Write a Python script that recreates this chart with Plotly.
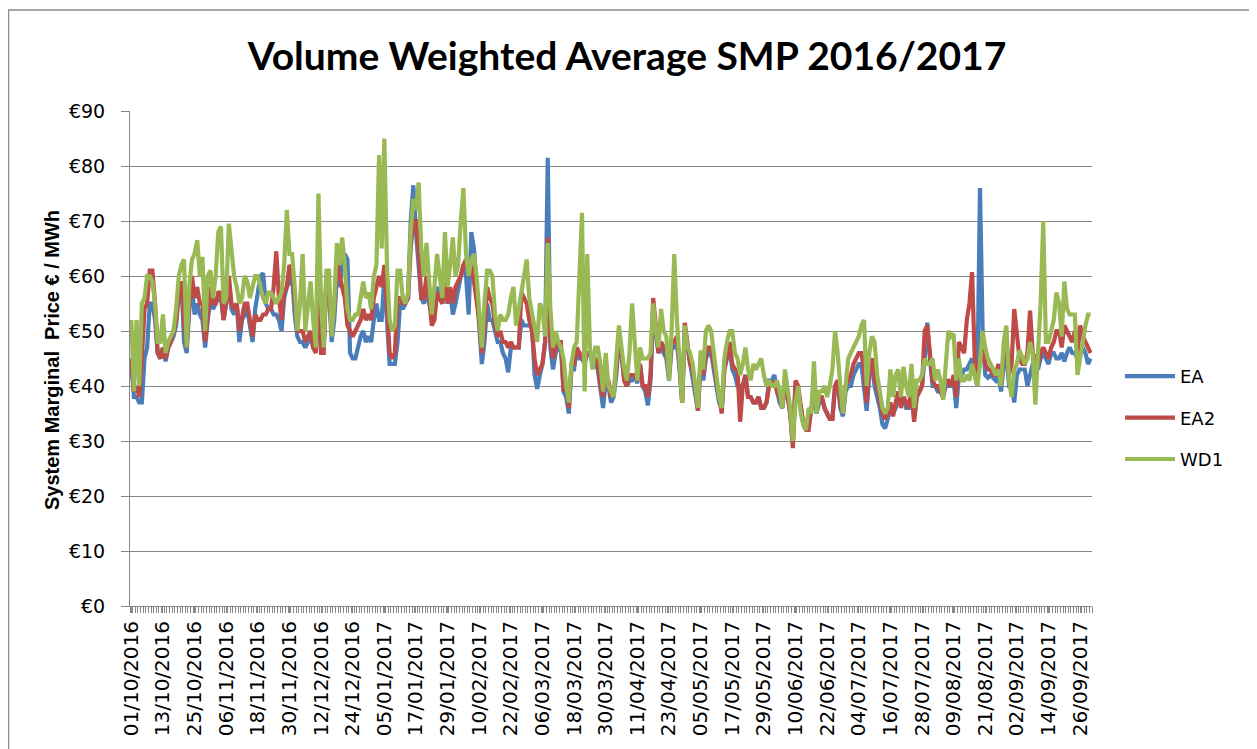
import pandas as pd
import plotly.graph_objects as go

# Daily dates (category labels) 01/10/2016 .. 30/09/2017
dates = pd.date_range("2016-10-01", "2017-09-30", freq="D")
tick_dates = dates[::12]

EA = [
    44, 38, 38, 37, 37, 45, 47, 55, 55, 52,
    46, 45, 47, 44.5, 47, 48, 49, 51, 57, 59,
    48, 46, 54, 58, 53, 55, 53, 52, 47, 52,
    56, 54, 55, 56, 56, 52, 55, 59, 54, 53,
    55, 48, 52, 53, 54, 51, 48, 54, 57, 60,
    60.5, 55, 54, 54, 53, 53, 52, 50, 56, 58,
    59, 60, 53, 49, 48, 48, 47, 48, 49, 47,
    47, 58, 46, 47, 59, 57, 48, 52, 60, 58,
    62, 64, 63, 46, 45, 45, 47, 49, 50, 48,
    49, 48, 52, 55, 52, 52, 60, 53, 44, 44,
    44, 48, 55, 54, 55, 56, 70, 76.5, 68, 62,
    56, 55, 57, 55, 53, 53, 58, 56, 55, 60,
    55, 57, 53, 55, 58, 60, 62, 60, 53, 68,
    65, 57, 50, 44, 48, 55, 52, 52, 50, 48,
    48, 46, 45, 42.5, 47, 47, 47, 47, 52, 51,
    51, 51, 51, 42, 39.5, 42, 44, 48, 81.5, 47,
    43, 46, 47, 47, 39, 38, 35, 43, 43, 47,
    45, 45, 44, 46, 46, 44, 44, 43, 39, 36,
    41, 40, 37, 38, 42, 48, 46, 41, 40, 41,
    41, 42, 40.5, 44, 40, 39, 36.5, 41, 53, 49,
    46, 47, 46, 45, 41, 47, 47, 48, 43, 37,
    50, 47, 44, 42, 38, 35.5, 44, 41, 45, 46,
    46, 43, 39, 37, 36, 43, 45, 47, 43, 42,
    40, 40, 40, 42, 38, 38, 37, 37, 38, 36,
    36, 37, 41, 41, 42, 39, 37, 36, 40, 38,
    35, 29.5, 40, 39, 36, 33, 32, 33, 36, 37,
    35, 37, 38, 36, 35, 34, 34, 40, 41, 36,
    34.5, 39, 40, 40, 42, 43, 44, 44, 40, 35.5,
    42, 44, 40, 38, 36, 33, 32.3, 34, 36, 35,
    36, 38, 37, 38, 36, 36, 39, 34, 38, 39,
    40, 45, 51.5, 45, 40, 40, 39, 39, 38, 40,
    40, 40, 41, 36, 42, 42, 43, 43, 44, 45,
    42, 40, 76, 50, 42, 41.5, 42, 41.5, 41, 42,
    39, 44, 46, 40, 40, 37, 42, 43, 43, 43,
    40, 42, 44, 44, 43, 45, 46, 45, 44, 46,
    46, 45, 45, 46, 44.5, 46, 47, 46, 46, 45,
    46, 47, 46, 44, 45,
]

EA2 = [
    45, 39, 40, 38, 45, 54, 55, 61, 61, 55,
    46, 45, 47, 45, 47, 48, 50, 52, 57, 59,
    52, 47, 55, 60, 56, 58, 55, 55, 48, 53,
    58, 55, 55, 57, 57, 52, 55, 60, 55, 54,
    55, 50, 53, 55, 55, 52, 49, 53, 52, 52,
    53, 53, 54, 54, 58, 64.5, 56, 52, 57, 58,
    62, 61, 55, 50, 50, 50, 48, 49, 50, 47,
    46, 58, 46, 46, 60, 58, 50, 54, 63, 60,
    58, 56, 51, 50, 49, 50, 51, 52, 54, 52,
    53, 52, 56, 58, 60, 58, 62, 55, 46, 45,
    46, 56, 56, 55, 55, 56, 65, 70, 70, 65,
    56, 56, 60, 56, 51, 52, 57, 56, 55, 60,
    55, 58, 55, 58, 59, 60, 62, 63, 60, 62,
    59, 55, 52, 46, 51, 58, 56, 55, 51, 49,
    50, 48, 48, 47, 48, 47, 47, 47, 57, 56,
    55, 52, 50, 45, 42, 43, 44, 48, 67, 48,
    45, 47, 48, 48, 39, 40, 36, 44, 44, 47,
    46, 45, 45, 46, 46, 45, 45, 44, 40, 38,
    42, 41, 38, 39, 43, 49, 46, 41, 40, 42,
    42, 42, 41, 44, 40, 40, 38, 42, 56, 50,
    46, 48, 47, 46, 42, 48, 48, 49, 44, 37,
    51.5, 48, 44, 43, 39, 35.5, 45, 42, 46, 47,
    47, 44, 40, 37, 35, 43, 46, 48, 44, 43,
    43, 33.5, 40, 42, 38, 38, 37, 37, 38, 36,
    36, 37, 40, 40, 41, 39, 38, 36, 41, 38,
    35, 28.7, 41, 40, 37, 33, 32, 32, 36, 38,
    36, 38, 38, 36, 35, 34, 34, 40, 41, 37,
    35, 40, 41, 42, 44, 45, 46, 46, 43, 37,
    44, 45, 41, 40, 37, 35, 34, 35, 37, 34.5,
    37, 39, 36, 38, 37, 36, 40, 33.5, 38, 39,
    40, 50, 51, 46, 41, 40, 40, 39, 38, 41,
    41, 40, 42, 38, 48, 47, 46, 52, 55, 60.7,
    45, 42, 44, 48, 44, 43, 43, 42, 42, 44,
    40, 46, 49, 42, 44, 54, 49, 45, 44, 44,
    46, 53.7, 46, 45, 44, 46, 47, 46, 45, 47,
    48, 50, 50, 47, 51, 50, 49, 48, 50, 46,
    51, 49, 48, 47, 46,
]

WD1 = [
    52, 39, 52, 40, 55, 56, 60, 60, 59, 55,
    48, 48, 53, 46, 48, 49, 50, 54, 60, 62,
    63, 47, 58, 63, 64, 66.5, 60, 63.5, 50, 60,
    61, 56, 60, 68, 69, 55, 56, 69.5, 65, 60,
    58, 55, 56, 60, 59, 56, 58, 60, 60, 58,
    56, 55, 57, 57, 56, 55, 56, 57, 62, 72,
    64, 64, 58, 50, 55, 64, 50, 55, 59, 52,
    47, 75, 55, 47, 61, 61, 49, 55, 66, 62,
    67, 62, 54, 52, 52, 53, 53, 56, 59, 56,
    57, 54, 60, 62, 82, 65, 85, 62, 52, 50,
    51, 61, 61, 56, 55, 57, 68, 74, 72, 77,
    65, 60, 66, 59, 53, 58, 64, 60, 56, 68,
    58, 62, 67, 60, 62, 70, 76, 64, 60, 63,
    64, 60, 54, 47, 55, 61, 61, 60, 53, 50,
    53, 52, 52, 53, 56, 58, 51, 54, 57, 60,
    63, 56, 53, 50, 48, 55, 54, 49, 66, 54,
    47, 50, 48, 47, 45, 40, 37, 44, 47, 48,
    58, 71.5, 39, 64, 47, 43, 47, 47, 44, 39,
    46, 40, 39, 38, 45, 51, 47, 43, 41, 46,
    55, 47, 41, 47, 45, 45, 45, 46, 55, 50,
    47, 54, 50, 49, 41, 50, 64, 52, 45, 37,
    51, 47, 46, 44, 40, 36, 46.5, 43, 50, 51,
    50, 46, 41, 38, 36, 45, 48, 50, 50, 46,
    45, 42, 44, 47, 43, 41, 44, 43, 44, 45,
    42, 40, 41, 40, 40, 41, 39, 36, 43, 40,
    36, 30, 37, 40, 35, 33, 32, 36, 35, 44.5,
    35, 39, 39, 40, 38, 40, 43, 50, 46, 40,
    35, 40, 45, 46, 47, 48, 49, 51, 52, 40,
    46, 49, 48, 42, 39, 36, 35, 36, 43, 38,
    42, 43, 38, 43.5, 40, 38, 44, 36, 41, 41,
    42, 45, 44, 44, 45, 41, 43, 41, 37.5, 45,
    50, 49, 49.5, 41, 45, 41, 41, 42, 41, 44,
    42, 40, 44, 50, 47, 45, 44, 43, 42, 43,
    40, 48, 51, 41, 38, 43, 44, 46.5, 45, 44,
    45, 48, 46, 36.6, 46, 55, 70, 48, 48, 50,
    52, 57, 55, 49, 59, 54, 53, 53, 53, 42,
    45, 49, 51, 53, 53,
]

series = [("EA", EA, "#4A7EBB"), ("EA2", EA2, "#BE4B48"), ("WD1", WD1, "#98B954")]

# The page body has an 8px margin, so figure coords = page coords - 8
OFF = 8
W, H = 1257, 749
L, R, T, B = 130 - OFF, 165 + OFF, 111 - OFF, 143 + OFF
pw, ph = W - L - R, H - T - B

def px(x_page):
    return (x_page - OFF - L) / pw

def py(y_page):
    return (H - B - (y_page - OFF)) / ph

fig = go.Figure()
for name, vals, col in series:
    fig.add_trace(go.Scatter(
        x=dates[:len(vals)], y=vals, mode="lines", name=name,
        legendgroup=name,
        line=dict(color=col, width=4.2),
    ))

grid = "#878787"
fig.update_layout(
    width=W, height=H,
    margin=dict(l=L, r=R, t=T, b=B, autoexpand=False),
    paper_bgcolor="white", plot_bgcolor="white",
    title=dict(text="<b>Volume Weighted Average SMP 2016/2017</b>",
               font=dict(family="Lato", size=39, color="#000000"),
               x=px(627), xanchor="center", xref="paper",
               y=1 - (56 - OFF) / H, yanchor="middle", yref="container"),
    showlegend=True,
    legend=dict(x=px(1120), y=py(358), xanchor="left", yanchor="top",
                font=dict(family="DejaVu Sans", size=18, color="#000000"),
                tracegroupgap=15, itemwidth=50,
                bgcolor="rgba(0,0,0,0)"),
    xaxis=dict(
        type="date",
        range=[dates[0] - pd.Timedelta(hours=12), dates[-1] + pd.Timedelta(hours=12)],
        tickmode="array", tickvals=list(tick_dates),
        tickformat="%d/%m/%Y", tickangle=-90,
        tickfont=dict(family="DejaVu Sans", size=20, color="#000000"),
        showgrid=False, zeroline=False,
        showline=True, linecolor=grid, linewidth=1,
        ticks="outside", ticklen=6, tickcolor=grid,
        minor=dict(dtick=86400000, tick0="2016-09-30 12:00",
                   ticks="outside", ticklen=6, tickcolor=grid, showgrid=False),
    ),
    yaxis=dict(
        range=[0, 90], dtick=10, tickprefix="€",
        tickfont=dict(family="DejaVu Sans", size=19, color="#000000"),
        showgrid=True, gridcolor=grid, gridwidth=1,
        zeroline=False, showline=True, linecolor=grid, linewidth=1,
        ticks="outside", ticklen=8, tickcolor=grid,
        ticklabelstandoff=12,
    ),
    annotations=[dict(
        text="<b>System Marginal\u00a0 Price € / MWh</b>",
        xref="paper", yref="paper", x=px(52), y=py(360),
        xanchor="center", yanchor="middle", textangle=-90, showarrow=False,
        font=dict(family="Liberation Sans", size=20, color="#000000"),
    )],
    shapes=[dict(type="rect", xref="paper", yref="paper",
                 x0=px(8.5), x1=px(1250), y0=py(800), y1=py(10),
                 line=dict(color="#8C8C8C", width=1.5), layer="below")],
)

fig.write_html("out.html")
